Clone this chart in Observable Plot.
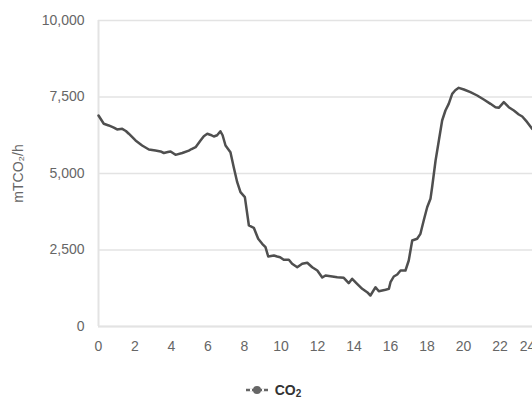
<!DOCTYPE html>
<html>
<head>
<meta charset="utf-8">
<script src="https://cdn.jsdelivr.net/npm/d3@7"></script>
<script src="https://cdn.jsdelivr.net/npm/@observablehq/plot@0.6"></script>
<style>
  html, body { margin: 0; padding: 0; background: #fff; overflow: hidden; }
  #wrap { width: 532px; overflow: hidden; }
  #legend { width: 532px; height: 22px; display: flex; justify-content: center; align-items: center; margin-top: 14px;
    font-family: "Liberation Sans", Arial, sans-serif; font-size: 14px; font-weight: bold; color: #333; padding-left: 15px; box-sizing: border-box; line-height: 16px; }
  #legend svg { margin-right: 7px; }
  #legend sub { font-size: 10px; vertical-align: -2px; line-height: 10px; }
</style>
</head>
<body>
<div id="wrap"></div>
<div id="legend"></div>
<script>
const hours = [0, 0.29, 0.56, 0.84, 1.02, 1.30, 1.5, 1.66, 2.03, 2.39, 2.76, 3.12, 3.4, 3.58, 3.8, 3.95, 4.22, 4.59, 4.95, 5.1, 5.32, 5.59, 5.77, 5.96, 6.15, 6.32, 6.5, 6.68, 6.8, 6.96, 7.23, 7.41, 7.60, 7.78, 8.02, 8.24, 8.51, 8.75, 8.97, 9.15, 9.30, 9.61, 9.79, 9.95, 10.15, 10.43, 10.61, 10.89, 11.16, 11.44, 11.71, 11.99, 12.26, 12.44, 12.81, 13.08, 13.44, 13.71, 13.90, 14.17, 14.45, 14.72, 14.90, 15.18, 15.36, 15.73, 15.91, 16.0, 16.18, 16.37, 16.55, 16.82, 17.0, 17.19, 17.46, 17.64, 17.82, 18.01, 18.19, 18.28, 18.47, 18.65, 18.83, 19.01, 19.19, 19.38, 19.55, 19.74, 20.02, 20.38, 20.75, 21.11, 21.48, 21.75, 21.93, 22.21, 22.48, 22.76, 23.03, 23.22, 23.49, 23.76, 24];
const co2 = [6895, 6625, 6570, 6500, 6440, 6460, 6390, 6300, 6080, 5915, 5785, 5750, 5720, 5670, 5700, 5720, 5610, 5670, 5750, 5800, 5860, 6080, 6220, 6297, 6260, 6209, 6250, 6380, 6250, 5915, 5696, 5206, 4716, 4389, 4226, 3301, 3225, 2866, 2703, 2592, 2288, 2320, 2288, 2265, 2180, 2180, 2049, 1938, 2049, 2082, 1938, 1830, 1600, 1667, 1634, 1611, 1590, 1415, 1559, 1395, 1232, 1121, 1013, 1284, 1154, 1199, 1230, 1448, 1634, 1699, 1830, 1830, 2157, 2810, 2866, 3029, 3464, 3899, 4173, 4552, 5425, 6078, 6732, 7059, 7277, 7604, 7720, 7800, 7745, 7657, 7549, 7418, 7277, 7167, 7146, 7331, 7167, 7059, 6928, 6863, 6677, 6460, 6350];
const xTicks = [0, 2, 4, 6, 8, 10, 12, 14, 16, 18, 20, 22, 24];
const yTicks = [0, 2500, 5000, 7500, 10000];
const seriesName = "CO";
const seriesSub = "2";
const yLabel = "mTCO₂/h";

const data = hours.map((h, i) => ({hour: h, value: co2[i]}));
const fmt = d3.format(",");
const gridColor = "#e3e3e3";
const textColor = "#666";

const chart = Plot.plot({
  width: 540,
  height: 365,
  marginLeft: 98,
  marginRight: 4,
  marginTop: 20,
  marginBottom: 39,
  style: {fontFamily: "'Liberation Sans', Arial, sans-serif", fontSize: "14px", color: textColor, maxWidth: "none", background: "#fff"},
  x: {domain: [0, 24]},
  y: {domain: [0, 10000]},
  marks: [
    Plot.gridY(yTicks, {stroke: gridColor, strokeOpacity: 1, strokeWidth: 1.5}),
    Plot.ruleX([0], {stroke: gridColor, strokeWidth: 2}),
    Plot.ruleY([0], {stroke: gridColor, strokeWidth: 2}),
    Plot.axisY(yTicks, {tickSize: 0, tickPadding: 14, tickFormat: fmt, label: null, fill: textColor}),
    Plot.axisX(xTicks.filter(t => t < 24), {tickSize: 0, tickPadding: 15, label: null, fill: textColor}),
    Plot.axisX(xTicks.filter(t => t >= 24), {tickSize: 0, tickPadding: 15, label: null, fill: textColor, dx: -9}),
    Plot.text([yLabel], {x: () => 0, y: () => yTicks[2], dx: -80, rotate: -90, fill: textColor, fontSize: 14, textAnchor: "middle"}),
    Plot.line(data, {x: "hour", y: "value", stroke: "#4f4f4f", strokeWidth: 2.5, curve: "linear"})
  ]
});
document.getElementById("wrap").appendChild(chart);

const legend = document.getElementById("legend");
legend.innerHTML = `<svg width="22" height="12"><line x1="0" x2="22" y1="6" y2="6" stroke="#666" stroke-width="2.5"/><circle cx="11" cy="6" r="4" fill="#666"/><line x1="4" x2="6" y1="6" y2="6" stroke="#fff" stroke-width="3"/><line x1="16" x2="18" y1="6" y2="6" stroke="#fff" stroke-width="3"/></svg><span>${seriesName}<sub>${seriesSub}</sub></span>`;
</script>
</body>
</html>
